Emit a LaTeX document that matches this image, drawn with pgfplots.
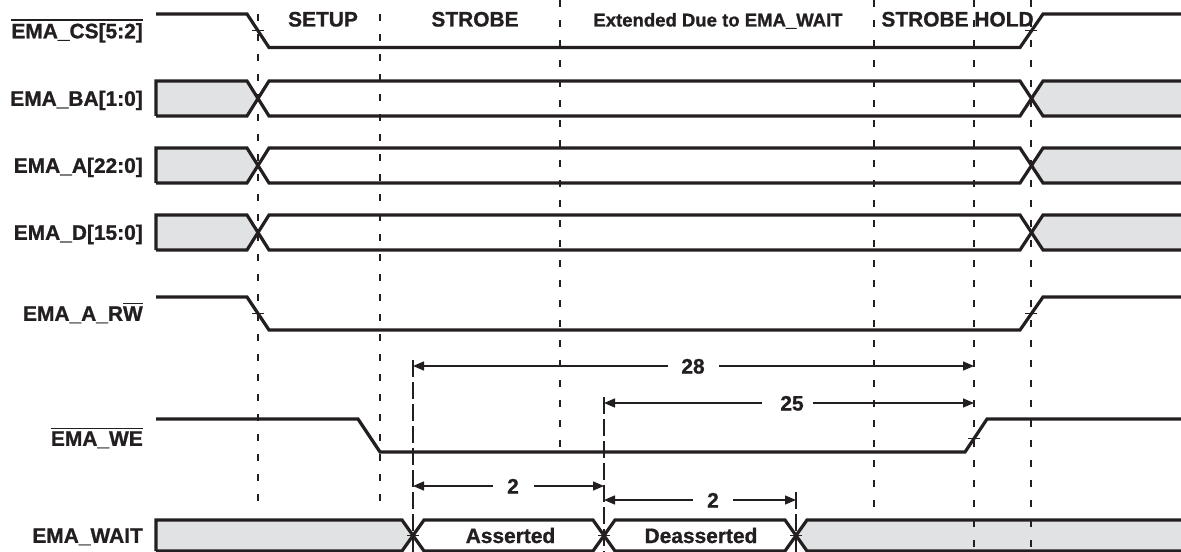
\documentclass[border=0pt]{standalone}
\usepackage{pgfplots}
\pgfplotsset{compat=1.18}
\usetikzlibrary{arrows.meta}
\usepackage{fontspec}
\setmainfont{Liberation Sans}[BoldFeatures={FakeBold=1}]
\definecolor{busgray}{HTML}{E1E2E4}
\definecolor{ink}{HTML}{231F20}
\newcommand\ovl[1]{\vbox{\hrule height 1.4bp\kern 2.4bp\hbox{#1}}}
\newcommand\lbl{\fontsize{21}{24}\selectfont\bfseries}
\newcommand\sml{\fontsize{18.6}{22}\selectfont\bfseries}
\begin{document}
\begin{tikzpicture}
\begin{axis}[at={(0,0)},anchor=south west,width=1181bp,height=552bp,scale only axis,
  xmin=0,xmax=1181,ymin=0,ymax=552,y dir=reverse,hide axis,clip=false,
  sig/.style={ink,line width=3.2bp,line join=miter},
  dsh/.style={ink,line width=1.5bp,dash pattern=on 7bp off 13bp},
  ext/.style={ink,line width=1.4bp,dash pattern=on 17bp off 5bp},
  arr/.style={ink,line width=1.4bp,-{Triangle[length=11bp,width=9bp]}},
  tk/.style={ink,line width=1bp},
  gfill/.style={fill=busgray,draw=none}]
% gray fills
\addplot[gfill] coordinates {(156,81)(247,81)(258,98.5)(247,116)(156,116)};
\addplot[gfill] coordinates {(1031,98.5)(1043,81)(1181,81)(1181,116)(1043,116)};
\addplot[gfill] coordinates {(156,148)(247,148)(258,165.5)(247,183)(156,183)};
\addplot[gfill] coordinates {(1031,165.5)(1043,148)(1181,148)(1181,183)(1043,183)};
\addplot[gfill] coordinates {(156,215)(247,215)(258,232.5)(247,250)(156,250)};
\addplot[gfill] coordinates {(1031,232.5)(1043,215)(1181,215)(1181,250)(1043,250)};
\addplot[gfill] coordinates {(156,520)(402,520)(413,535.5)(402,551)(156,551)};
\addplot[gfill] coordinates {(796,535.5)(807,520)(1181,520)(1181,551)(807,551)};
% dashed verticals
\addplot[dsh] coordinates {(258,14)(258,512)};
\addplot[dsh] coordinates {(380,14)(380,512)};
\addplot[dsh] coordinates {(560,0)(560,452)};
\addplot[dsh] coordinates {(874,0)(874,507)};
\addplot[dsh] coordinates {(974,0)(974,552)};
\addplot[dsh] coordinates {(1031,0)(1031,552)};
\addplot[ext] coordinates {(413,360)(413,552)};
\addplot[ext] coordinates {(604,397)(604,552)};
\addplot[ext] coordinates {(796,492)(796,552)};
% EMA_CS
\addplot[sig] coordinates {(156,14)(247,14)(269,47.5)(1020,47.5)(1043,14)(1181,14)};
% EMA_BA
\addplot[sig] coordinates {(156,116)(156,81)(247,81)(269,116)(1020,116)(1043,81)(1181,81)};
\addplot[sig] coordinates {(156,116)(247,116)(269,81)(1020,81)(1043,116)(1181,116)};
% EMA_A
\addplot[sig] coordinates {(156,183)(156,148)(247,148)(269,183)(1020,183)(1043,148)(1181,148)};
\addplot[sig] coordinates {(156,183)(247,183)(269,148)(1020,148)(1043,183)(1181,183)};
% EMA_D
\addplot[sig] coordinates {(156,250)(156,215)(247,215)(269,250)(1020,250)(1043,215)(1181,215)};
\addplot[sig] coordinates {(156,250)(247,250)(269,215)(1020,215)(1043,250)(1181,250)};
% EMA_A_RW
\addplot[sig] coordinates {(156,297)(247,297)(269,330)(1020,330)(1043,297)(1181,297)};
% EMA_WE
\addplot[sig] coordinates {(156,419)(358,419)(380,452)(965,452)(987,419)(1181,419)};
% EMA_WAIT
\addplot[sig] coordinates {(156,551)(156,520)(402,520)(424,551)(593,551)(615,520)(785,520)(807,551)(1181,551)};
\addplot[sig] coordinates {(156,551)(402,551)(424,520)(593,520)(615,551)(785,551)(807,520)(1181,520)};
% crossing ticks
\addplot[tk] coordinates {(252,30.75)(264,30.75)};
\addplot[tk] coordinates {(1025,30.75)(1037,30.75)};
\addplot[tk] coordinates {(252,313.5)(264,313.5)};
\addplot[tk] coordinates {(1025,313.5)(1037,313.5)};
\addplot[tk] coordinates {(968,438.5)(980,438.5)};
\addplot[tk] coordinates {(407,535.5)(419,535.5)};
\addplot[tk] coordinates {(598,535.5)(610,535.5)};
\addplot[tk] coordinates {(790,535.5)(802,535.5)};
% dimension arrows
\addplot[arr] coordinates {(668,366)(413,366)};
\addplot[arr] coordinates {(719,366)(974,366)};
\addplot[arr] coordinates {(762,403)(604,403)};
\addplot[arr] coordinates {(813,403)(974,403)};
\addplot[arr] coordinates {(493,486)(413,486)};
\addplot[arr] coordinates {(534,486)(604,486)};
\addplot[arr] coordinates {(693,500)(604,500)};
\addplot[arr] coordinates {(733,500)(796,500)};
% signal names
\node[anchor=base east,font=\lbl,text=ink,inner sep=0pt] at (axis cs:143,38.3) {\ovl{EMA\_CS[5:2]}};
\node[anchor=base east,font=\lbl,text=ink,inner sep=0pt] at (axis cs:143,105.8) {EMA\_BA[1:0]};
\node[anchor=base east,font=\lbl,text=ink,inner sep=0pt] at (axis cs:143,172.8) {EMA\_A[22:0]};
\node[anchor=base east,font=\lbl,text=ink,inner sep=0pt] at (axis cs:143,239.8) {EMA\_D[15:0]};
\node[anchor=base east,font=\lbl,text=ink,inner sep=0pt] at (axis cs:143,320.8) {EMA\_A\_R\ovl{W}};
\node[anchor=base east,font=\lbl,text=ink,inner sep=0pt] at (axis cs:143,445.8) {\ovl{EMA\_WE}};
\node[anchor=base east,font=\lbl,text=ink,inner sep=0pt] at (axis cs:143,542.8) {EMA\_WAIT};
% phase labels
\node[anchor=base,font=\lbl,text=ink,inner sep=0pt] at (axis cs:323,26.5) {SETUP};
\node[anchor=base,font=\lbl,text=ink,inner sep=0pt] at (axis cs:475,26.5) {STROBE};
\node[anchor=base,font=\sml,text=ink,inner sep=0pt] at (axis cs:718,26.5) {Extended Due to EMA\_WAIT};
\node[anchor=base,font=\lbl,text=ink,inner sep=0pt] at (axis cs:925,26.5) {STROBE};
\node[anchor=base,font=\lbl,text=ink,inner sep=0pt] at (axis cs:1004,26.5) {HOLD};
% dimension values
\node[anchor=base,font=\lbl,text=ink,inner sep=0pt] at (axis cs:693,373.5) {28};
\node[anchor=base,font=\lbl,text=ink,inner sep=0pt] at (axis cs:792,410.5) {25};
\node[anchor=base,font=\lbl,text=ink,inner sep=0pt] at (axis cs:513,493.5) {2};
\node[anchor=base,font=\lbl,text=ink,inner sep=0pt] at (axis cs:713,507.5) {2};
\node[anchor=base,font=\lbl,text=ink,inner sep=0pt] at (axis cs:510.5,543) {Asserted};
\node[anchor=base,font=\lbl,text=ink,inner sep=0pt] at (axis cs:701,543) {Deasserted};
\end{axis}
\pgfresetboundingbox
\path[use as bounding box] (0,0) rectangle (1181bp,552bp);
\end{tikzpicture}
\end{document}
